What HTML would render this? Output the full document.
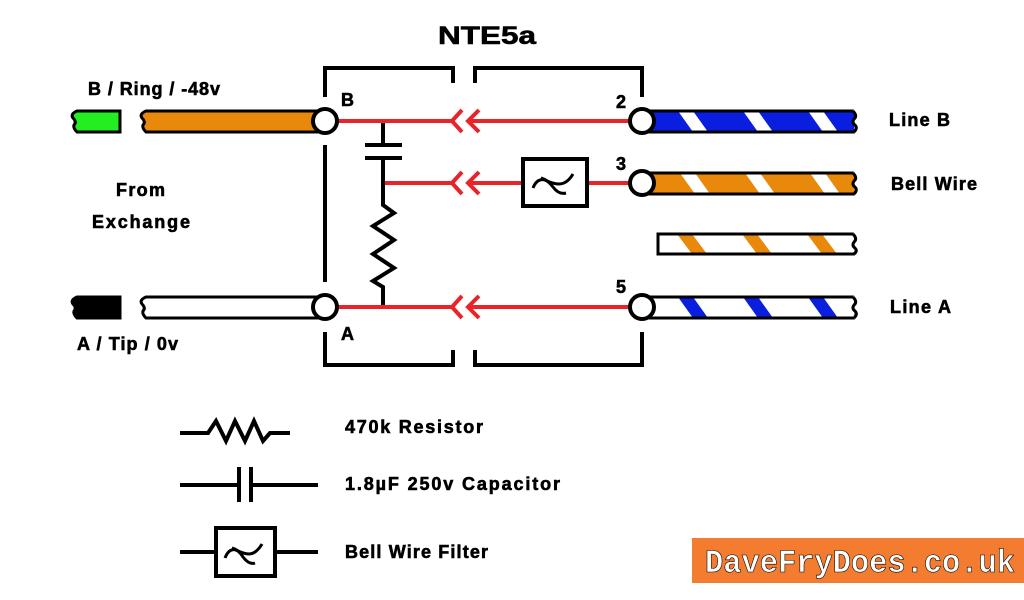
<!DOCTYPE html>
<html><head><meta charset="utf-8"><style>
html,body{margin:0;padding:0;background:#fff}
svg{display:block}
text{font-family:"Liberation Sans",Arial,sans-serif;font-weight:bold;stroke:#000;stroke-width:0.6}
</style></head><body>
<svg width="1024" height="600" viewBox="0 0 1024 600" xmlns="http://www.w3.org/2000/svg">
<defs>
<clipPath id="c1"><rect x="648" y="111" width="206" height="21"/></clipPath>
<clipPath id="c2"><rect x="648" y="173" width="206" height="21"/></clipPath>
<clipPath id="c3"><rect x="658" y="234" width="196" height="20"/></clipPath>
<clipPath id="c4"><rect x="648" y="297" width="206" height="21"/></clipPath>
</defs>

<text x="438" y="44" font-size="25" textLength="98" lengthAdjust="spacingAndGlyphs">NTE5a</text>

<g stroke="#000" stroke-width="4" fill="none">
<path d="M325 97 V68 H453 V83"/>
<path d="M475 83 V68 H642 V97"/>
<path d="M325 145 V282"/>
<path d="M325 332 V365 H453 V350"/>
<path d="M475 350 V365 H642 V332"/>
</g>

<g stroke="#000" stroke-width="3">
<path d="M77 111 H120 V132 H77 q-4 -4 -3 -7 q3 -3 -1 -7 q-3 -4 4 -7z" fill="#22ee22"/>
<path d="M146 111 H318 V132 H146 q-4 -4 -3 -7 q3 -3 -1 -7 q-3 -4 4 -7z" fill="#e8890c"/>
<path d="M77 297 H120 V318 H77 q-4 -4 -3 -7 q3 -3 -1 -7 q-3 -4 4 -7z" fill="#000"/>
<path d="M146 297 H318 V318 H146 q-4 -4 -3 -7 q3 -3 -1 -7 q-3 -4 4 -7z" fill="#fff"/>
</g>

<!-- right wires -->
<rect x="648" y="111" width="206" height="21" fill="#0a1ee0"/>
<g clip-path="url(#c1)" fill="#fff">
<polygon points="678,111 693,111 708,132 693,132"/><polygon points="743,111 758,111 773,132 758,132"/><polygon points="808,111 823,111 838,132 823,132"/>
</g>
<rect x="648" y="173" width="206" height="21" fill="#e8890c"/>
<g clip-path="url(#c2)" fill="#fff">
<polygon points="680,173 695,173 710,194 695,194"/><polygon points="745,173 760,173 775,194 760,194"/><polygon points="810,173 825,173 840,194 825,194"/>
</g>
<rect x="658" y="234" width="196" height="20" fill="#fff"/>
<g clip-path="url(#c3)" fill="#e8890c">
<polygon points="677,234 692,234 707,254 692,254"/><polygon points="742,234 757,234 772,254 757,254"/><polygon points="807,234 822,234 837,254 822,254"/>
</g>
<rect x="648" y="297" width="206" height="21" fill="#fff"/>
<g clip-path="url(#c4)" fill="#0a1ee0">
<polygon points="678,297 693,297 708,318 693,318"/><polygon points="743,297 758,297 773,318 758,318"/><polygon points="808,297 823,297 838,318 823,318"/>
</g>
<g stroke="#000" stroke-width="3" fill="none">
<path d="M648 111 H853 q4 4 2 7 q-4 4 0 7 q3 3 -1 7 H648"/>
<path d="M648 173 H853 q4 4 2 7 q-4 4 0 7 q3 3 -1 7 H648"/>
<path d="M658 234 H853 q4 4 2 7 q-4 4 0 7 q3 3 -1 6 H658z"/>
<path d="M648 297 H853 q4 4 2 7 q-4 4 0 7 q3 3 -1 7 H648"/>
</g>
<g fill="#fff">
<path d="M853 110 q5 4 3 8 q-4 4 0 7 q4 4 -2 8 H858 V110z"/>
<path d="M853 172 q5 4 3 8 q-4 4 0 7 q4 4 -2 8 H858 V172z"/>
<path d="M853 233 q5 4 3 8 q-4 4 0 7 q4 4 -2 7 H858 V233z"/>
<path d="M853 296 q5 4 3 8 q-4 4 0 7 q4 4 -2 8 H858 V296z"/>
</g>
<g stroke="#000" stroke-width="3" fill="none">
<path d="M853 111 q4 4 2 7 q-4 4 0 7 q3 3 -1 7"/>
<path d="M853 173 q4 4 2 7 q-4 4 0 7 q3 3 -1 7"/>
<path d="M853 234 q4 4 2 7 q-4 4 0 7 q3 3 -1 6"/>
<path d="M853 297 q4 4 2 7 q-4 4 0 7 q3 3 -1 7"/>
</g>

<g stroke="#e8232a" stroke-width="4" fill="none">
<path d="M338 121 H452 M462 110 L452 121 L462 132 M479 110 L468 121 L479 132 M468 121 H630"/>
<path d="M383 183 H452 M462 172 L452 183 L462 194 M479 172 L468 183 L479 194 M468 183 H522 M588 183 H630"/>
<path d="M338 307 H452 M462 296 L452 307 L462 318 M479 296 L468 307 L479 318 M468 307 H630"/>
</g>

<g stroke="#000" stroke-width="4" fill="none">
<path d="M383 123 V145 M365 145 H402 M365 158 H402 M383 158 V205 L394 213 L373 226 L394 240 L373 254 L394 268 L373 281 L383 287 V305"/>
<rect x="523" y="159" width="64" height="47"/>
<path d="M533 188 q4 -10 12 -8 q8 4 14 4 q8 0 14 -10" stroke-width="3"/>
<path d="M541 178 q7 2 12 9 q6 8 13 6" stroke-width="3"/>
</g>

<g stroke="#000" stroke-width="4" fill="#fff">
<circle cx="325" cy="121" r="12"/>
<circle cx="325" cy="307" r="12"/>
<circle cx="642" cy="121" r="12"/>
<circle cx="642" cy="183" r="12"/>
<circle cx="642" cy="307" r="12"/>
</g>

<g font-size="18" lengthAdjust="spacingAndGlyphs">
<text x="88" y="95" textLength="132">B / Ring / -48v</text>
<text x="116" y="196" textLength="49">From</text>
<text x="92" y="228" textLength="98">Exchange</text>
<text x="77" y="350" textLength="101">A / Tip / 0v</text>
<text x="341" y="106">B</text>
<text x="341" y="340">A</text>
<text x="616" y="108">2</text>
<text x="616" y="170">3</text>
<text x="616" y="293">5</text>
<text x="889" y="126" textLength="61">Line B</text>
<text x="891" y="190" textLength="86">Bell Wire</text>
<text x="890" y="313" textLength="61">Line A</text>
<text x="345" y="433" textLength="138">470k Resistor</text>
<text x="345" y="490" textLength="215">1.8µF 250v Capacitor</text>
<text x="345" y="558" textLength="143">Bell Wire Filter</text>
</g>

<g stroke="#000" stroke-width="4" fill="none">
<path d="M180 433 H208 L216 421 L226 441 L235 421 L245 441 L254 421 L263 441 L270 433 H290"/>
<path d="M180 485 H239 M239 467 V502 M251 467 V502 M251 485 H318"/>
<path d="M180 552 H216 M275 552 H318"/>
<rect x="216" y="528" width="59" height="48"/>
<path d="M225 558 q4 -10 11 -8 q8 4 13 4 q7 0 13 -10" stroke-width="3"/>
<path d="M232 548 q7 2 11 9 q6 8 12 6" stroke-width="3"/>
</g>

<rect x="692" y="538" width="332" height="45" fill="#f47c30"/>
<text x="705" y="572" font-size="32" fill="#fff" stroke="none" textLength="310" lengthAdjust="spacingAndGlyphs" style="font-family:'Liberation Mono',monospace">DaveFryDoes.co.uk</text>
</svg>
</body></html>
